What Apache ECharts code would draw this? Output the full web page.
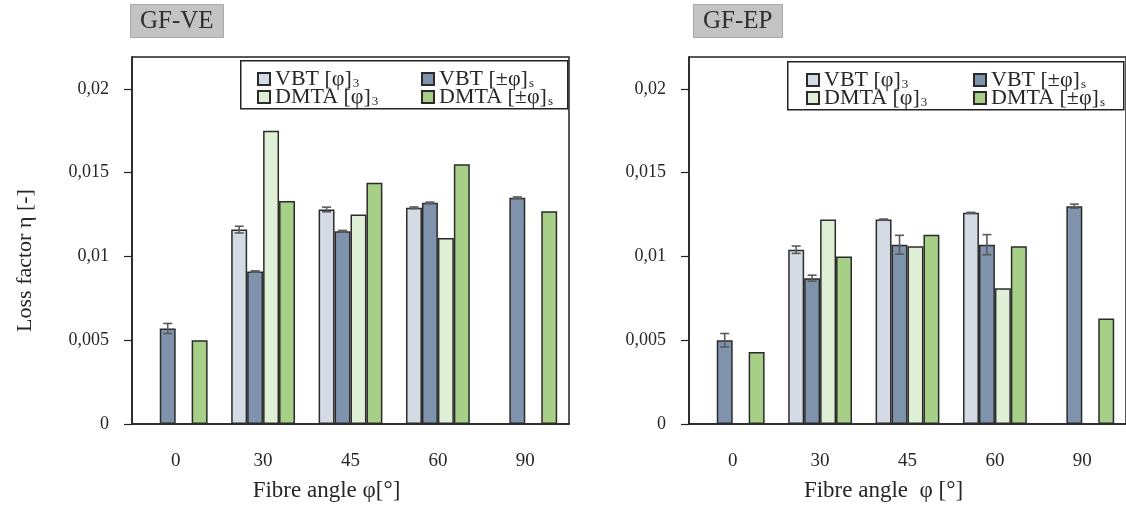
<!DOCTYPE html>
<html>
<head>
<meta charset="utf-8">
<script src="https://cdn.jsdelivr.net/npm/echarts@6/dist/echarts.min.js"></script>
<style>
  html, body { margin: 0; padding: 0; background: #fff; }
  #chart { width: 1126px; height: 507px; }
</style>
</head>
<body>
<div id="chart"></div>
<script>
// Fibre angles (categories)
const angles = ['0', '30', '45', '60', '90'];
const yTicks = [0, 0.005, 0.01, 0.015, 0.02];

// GF-VE loss factors
const veVbt3 = [null, 0.0116, 0.0128, 0.0129, null];
const veVbtS = [0.0057, 0.0091, 0.0115, 0.0132, 0.0135];
const veDmta3 = [null, 0.0175, 0.0125, 0.0111, null];
const veDmtaS = [0.0050, 0.0133, 0.0144, 0.0155, 0.0127];
const veVbt3Err = [null, 0.0002, 0.00014, 0.00005, null];
const veVbtSErr = [0.0003, 0.00004, 0.00005, 0.00004, 0.00005];

// GF-EP loss factors
const epVbt3 = [null, 0.0104, 0.0122, 0.0126, null];
const epVbtS = [0.0050, 0.0087, 0.0107, 0.0107, 0.0130];
const epDmta3 = [null, 0.0122, 0.0106, 0.0081, null];
const epDmtaS = [0.0043, 0.0100, 0.0113, 0.0106, 0.0063];
const epVbt3Err = [null, 0.00022, 0.00003, 0.00003, null];
const epVbtSErr = [0.0004, 0.00018, 0.00056, 0.0006, 0.00012];

const SERIF = '"Liberation Serif", "DejaVu Serif", serif';
const TXT = '#262626';
const COLORS = ['#d4dbe5', '#7f93ad', '#e0f0d7', '#a8cf88'];
const NAMES = ['VBT3', 'VBTs', 'DMTA3', 'DMTAs'];
const LABELS = {
  VBT3: '{b|VBT [φ]}{s|3}',
  VBTs: '{b|VBT [±φ]}{s|s}',
  DMTA3: '{b|DMTA [φ]}{s|3}',
  DMTAs: '{b|DMTA [±φ]}{s|s}'
};
const GAP = 0.27;
const GROUP = 4;

function barSeries(name, idx, data, axisIdx) {
  return {
    name: name, type: 'bar', data: data,
    xAxisIndex: axisIdx, yAxisIndex: axisIdx,
    barGap: '0%', barCategoryGap: (GAP * 100) + '%',
    itemStyle: { color: COLORS[idx], borderColor: '#2b2b2b', borderWidth: 1.5 },
    emphasis: { disabled: true }
  };
}

// I-beam error bars sitting on the matching bar slot
function errSeries(idx, values, errs, axisIdx) {
  const data = values.map((v, i) => (v == null || errs[i] == null) ? [i, null, null] : [i, v, errs[i]]);
  return {
    type: 'custom', xAxisIndex: axisIdx, yAxisIndex: axisIdx, z: 5,
    data: data,
    encode: { x: 0, y: 1 },
    renderItem: function (params, api) {
      const v = api.value(1);
      if (v == null || isNaN(v)) return null;
      const e = api.value(2);
      const cat = api.value(0);
      const band = api.size([1, 0])[0];
      const bw = band * (1 - GAP) / GROUP;
      const c = api.coord([cat, v]);
      const x = c[0] - band * (1 - GAP) / 2 + (idx + 0.5) * bw;
      const yHi = api.coord([cat, v + e])[1];
      const yLo = api.coord([cat, v - e])[1];
      const cap = 4.5;
      const st = { stroke: '#5a5a5a', lineWidth: 1.6 };
      return {
        type: 'group',
        children: [
          { type: 'line', shape: { x1: x, y1: yHi, x2: x, y2: yLo }, style: st },
          { type: 'line', shape: { x1: x - cap, y1: yHi, x2: x + cap, y2: yHi }, style: st },
          { type: 'line', shape: { x1: x - cap, y1: yLo, x2: x + cap, y2: yLo }, style: st }
        ]
      };
    }
  };
}

function legendCol(names, left, top) {
  return {
    left: left, top: top, orient: 'vertical', padding: 0,
    data: names.map(n => ({ name: n, icon: 'rect' })),
    itemWidth: 12, itemHeight: 12, itemGap: -4,
    selectedMode: false,
    formatter: n => LABELS[n],
    textStyle: {
      color: TXT,
      rich: {
        b: { fontFamily: SERIF, fontSize: 22, color: TXT, lineHeight: 16 },
        s: { fontFamily: SERIF, fontSize: 13, color: TXT, lineHeight: 16, padding: [9, 0, 0, 1] }
      }
    }
  };
}

const fmtY = v => v === 0 ? '0' : String(+v.toFixed(3)).replace('.', ',');

function yAxis(gridIdx, name) {
  return {
    type: 'value', gridIndex: gridIdx, min: 0, max: 0.0219,
    name: name, nameLocation: 'middle', nameGap: 96,
    nameTextStyle: { fontFamily: SERIF, fontSize: 22, color: TXT, padding: [0, 40, 0, 0] },
    axisLine: { show: true, lineStyle: { color: '#222', width: 1.5 } },
    axisTick: { show: true, length: 8, lineStyle: { color: '#222', width: 1.2 }, customValues: yTicks },
    axisLabel: { fontFamily: SERIF, fontSize: 18, color: TXT, margin: 23, formatter: fmtY, customValues: yTicks },
    splitLine: { show: false }
  };
}

function xAxis(gridIdx, name) {
  return {
    type: 'category', gridIndex: gridIdx, data: angles,
    name: name, nameLocation: 'middle', nameGap: 55,
    nameTextStyle: { fontFamily: SERIF, fontSize: 23, color: TXT, padding: [0, 48, 0, 0] },
    axisLine: { show: true, lineStyle: { color: '#222', width: 1.5 } },
    axisTick: { show: false },
    axisLabel: { fontFamily: SERIF, fontSize: 19, color: TXT, margin: 28 }
  };
}

function box(x, y, w, h) {
  return {
    type: 'rect', left: x, top: y, silent: true, z: 10,
    shape: { width: w, height: h },
    style: { fill: 'rgba(0,0,0,0)', stroke: '#222', lineWidth: 1.5 }
  };
}

const titleStyle = { fontFamily: SERIF, fontSize: 25, fontWeight: 'normal', color: '#2e2e2e' };

const option = {
  animation: false,
  backgroundColor: '#fff',
  title: [
    { text: 'GF-VE', left: 130, top: 4, padding: [5, 10, 4, 10], backgroundColor: '#c3c3c3', borderColor: '#a8a8a8', borderWidth: 1, textStyle: titleStyle },
    { text: 'GF-EP', left: 693, top: 4, padding: [5, 10, 4, 10], backgroundColor: '#c3c3c3', borderColor: '#a8a8a8', borderWidth: 1, textStyle: titleStyle }
  ],
  grid: [
    { left: 132, width: 437, top: 57, bottom: 82, show: true, borderColor: '#222', borderWidth: 1.5, containLabel: false },
    { left: 689, width: 438, top: 57, bottom: 82, show: true, borderColor: '#222', borderWidth: 1.5, containLabel: false }
  ],
  legend: [
    legendCol(['VBT3', 'DMTA3'], 257, 68),
    legendCol(['VBTs', 'DMTAs'], 421, 68),
    legendCol(['VBT3', 'DMTA3'], 806, 69),
    legendCol(['VBTs', 'DMTAs'], 973, 69)
  ],
  xAxis: [xAxis(0, 'Fibre angle φ[°]'), xAxis(1, 'Fibre angle  φ [°]')],
  yAxis: [yAxis(0, 'Loss factor η [-]'), yAxis(1, '')],
  graphic: [box(240, 60, 327, 48), box(787, 61, 336, 48)],
  series: [
    barSeries(NAMES[0], 0, veVbt3, 0),
    barSeries(NAMES[1], 1, veVbtS, 0),
    barSeries(NAMES[2], 2, veDmta3, 0),
    barSeries(NAMES[3], 3, veDmtaS, 0),
    errSeries(0, veVbt3, veVbt3Err, 0),
    errSeries(1, veVbtS, veVbtSErr, 0),
    barSeries(NAMES[0], 0, epVbt3, 1),
    barSeries(NAMES[1], 1, epVbtS, 1),
    barSeries(NAMES[2], 2, epDmta3, 1),
    barSeries(NAMES[3], 3, epDmtaS, 1),
    errSeries(0, epVbt3, epVbt3Err, 1),
    errSeries(1, epVbtS, epVbtSErr, 1)
  ]
};

const chart = echarts.init(document.getElementById('chart'), null, { renderer: 'canvas' });
chart.setOption(option);
</script>
</body>
</html>
